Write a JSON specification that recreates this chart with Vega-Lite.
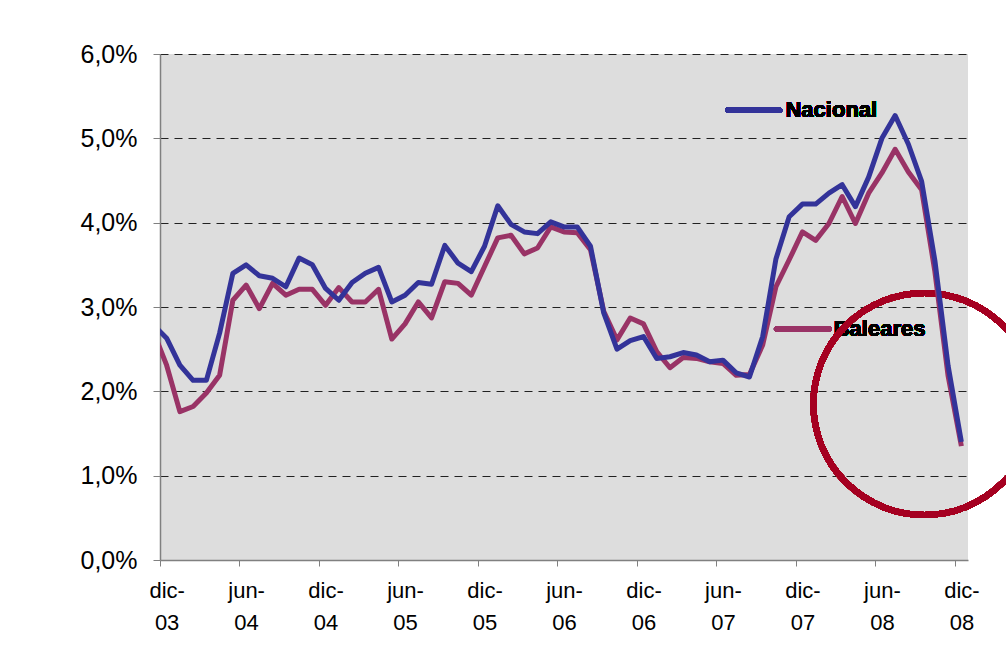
{
  "$schema": "https://vega.github.io/schema/vega-lite/v6.json",
  "width": 808,
  "height": 506,
  "autosize": {"type": "none"},
  "padding": {"left": 160, "top": 54, "right": 38, "bottom": 110},
  "background": "#ffffff",
  "config": {
    "font": "Liberation Sans",
    "view": {"fill": "#dddddd", "stroke": null}
  },
  "data": {
    "values": [
      {"i": -1, "mes": "nov-03", "Nacional": 2.79, "Baleares": 2.71},
      {"i": 0, "mes": "dic-03", "Nacional": 2.63, "Baleares": 2.31},
      {"i": 1, "mes": "ene-04", "Nacional": 2.31, "Baleares": 1.76},
      {"i": 2, "mes": "feb-04", "Nacional": 2.13, "Baleares": 1.82},
      {"i": 3, "mes": "mar-04", "Nacional": 2.13, "Baleares": 1.98},
      {"i": 4, "mes": "abr-04", "Nacional": 2.69, "Baleares": 2.19},
      {"i": 5, "mes": "may-04", "Nacional": 3.40, "Baleares": 3.08},
      {"i": 6, "mes": "jun-04", "Nacional": 3.50, "Baleares": 3.26},
      {"i": 7, "mes": "jul-04", "Nacional": 3.37, "Baleares": 2.98},
      {"i": 8, "mes": "ago-04", "Nacional": 3.34, "Baleares": 3.28},
      {"i": 9, "mes": "sep-04", "Nacional": 3.24, "Baleares": 3.14},
      {"i": 10, "mes": "oct-04", "Nacional": 3.58, "Baleares": 3.21},
      {"i": 11, "mes": "nov-04", "Nacional": 3.50, "Baleares": 3.21},
      {"i": 12, "mes": "dic-04", "Nacional": 3.22, "Baleares": 3.02},
      {"i": 13, "mes": "ene-05", "Nacional": 3.08, "Baleares": 3.23},
      {"i": 14, "mes": "feb-05", "Nacional": 3.29, "Baleares": 3.06},
      {"i": 15, "mes": "mar-05", "Nacional": 3.40, "Baleares": 3.06},
      {"i": 16, "mes": "abr-05", "Nacional": 3.47, "Baleares": 3.21},
      {"i": 17, "mes": "may-05", "Nacional": 3.06, "Baleares": 2.62},
      {"i": 18, "mes": "jun-05", "Nacional": 3.14, "Baleares": 2.80},
      {"i": 19, "mes": "jul-05", "Nacional": 3.29, "Baleares": 3.06},
      {"i": 20, "mes": "ago-05", "Nacional": 3.27, "Baleares": 2.87},
      {"i": 21, "mes": "sep-05", "Nacional": 3.73, "Baleares": 3.30},
      {"i": 22, "mes": "oct-05", "Nacional": 3.52, "Baleares": 3.28},
      {"i": 23, "mes": "nov-05", "Nacional": 3.42, "Baleares": 3.14},
      {"i": 24, "mes": "dic-05", "Nacional": 3.72, "Baleares": 3.48},
      {"i": 25, "mes": "ene-06", "Nacional": 4.20, "Baleares": 3.82},
      {"i": 26, "mes": "feb-06", "Nacional": 3.98, "Baleares": 3.85},
      {"i": 27, "mes": "mar-06", "Nacional": 3.89, "Baleares": 3.63},
      {"i": 28, "mes": "abr-06", "Nacional": 3.87, "Baleares": 3.70},
      {"i": 29, "mes": "may-06", "Nacional": 4.01, "Baleares": 3.95},
      {"i": 30, "mes": "jun-06", "Nacional": 3.95, "Baleares": 3.89},
      {"i": 31, "mes": "jul-06", "Nacional": 3.95, "Baleares": 3.88},
      {"i": 32, "mes": "ago-06", "Nacional": 3.72, "Baleares": 3.68},
      {"i": 33, "mes": "sep-06", "Nacional": 2.93, "Baleares": 2.95},
      {"i": 34, "mes": "oct-06", "Nacional": 2.50, "Baleares": 2.61},
      {"i": 35, "mes": "nov-06", "Nacional": 2.60, "Baleares": 2.87},
      {"i": 36, "mes": "dic-06", "Nacional": 2.65, "Baleares": 2.80},
      {"i": 37, "mes": "ene-07", "Nacional": 2.39, "Baleares": 2.47},
      {"i": 38, "mes": "feb-07", "Nacional": 2.41, "Baleares": 2.28},
      {"i": 39, "mes": "mar-07", "Nacional": 2.46, "Baleares": 2.40},
      {"i": 40, "mes": "abr-07", "Nacional": 2.43, "Baleares": 2.39},
      {"i": 41, "mes": "may-07", "Nacional": 2.35, "Baleares": 2.35},
      {"i": 42, "mes": "jun-07", "Nacional": 2.37, "Baleares": 2.33},
      {"i": 43, "mes": "jul-07", "Nacional": 2.22, "Baleares": 2.19},
      {"i": 44, "mes": "ago-07", "Nacional": 2.17, "Baleares": 2.20},
      {"i": 45, "mes": "sep-07", "Nacional": 2.65, "Baleares": 2.55},
      {"i": 46, "mes": "oct-07", "Nacional": 3.57, "Baleares": 3.24},
      {"i": 47, "mes": "nov-07", "Nacional": 4.07, "Baleares": 3.56},
      {"i": 48, "mes": "dic-07", "Nacional": 4.22, "Baleares": 3.89},
      {"i": 49, "mes": "ene-08", "Nacional": 4.22, "Baleares": 3.79},
      {"i": 50, "mes": "feb-08", "Nacional": 4.35, "Baleares": 3.99},
      {"i": 51, "mes": "mar-08", "Nacional": 4.45, "Baleares": 4.31},
      {"i": 52, "mes": "abr-08", "Nacional": 4.19, "Baleares": 3.99},
      {"i": 53, "mes": "may-08", "Nacional": 4.54, "Baleares": 4.35},
      {"i": 54, "mes": "jun-08", "Nacional": 5.00, "Baleares": 4.59},
      {"i": 55, "mes": "jul-08", "Nacional": 5.27, "Baleares": 4.87},
      {"i": 56, "mes": "ago-08", "Nacional": 4.93, "Baleares": 4.60},
      {"i": 57, "mes": "sep-08", "Nacional": 4.49, "Baleares": 4.39},
      {"i": 58, "mes": "oct-08", "Nacional": 3.55, "Baleares": 3.42},
      {"i": 59, "mes": "nov-08", "Nacional": 2.30, "Baleares": 2.18},
      {"i": 60, "mes": "dic-08", "Nacional": 1.40, "Baleares": 1.35}
    ]
  },
  "encoding": {
    "x": {
      "field": "i",
      "type": "quantitative",
      "title": null,
      "scale": {"domain": [-0.5, 60.5], "nice": false, "zero": false},
      "axis": {
        "values": [0, 6, 12, 18, 24, 30, 36, 42, 48, 54, 60],
        "tickOffset": -6.62,
        "labelOffset": 6.62,
        "labelExpr": "[datum.value % 12 == 0 ? 'dic-' : 'jun-', '0' + (floor((datum.value + 11) / 12) + 3)]",
        "labelFontSize": 22,
        "labelLineHeight": 32,
        "labelBaseline": "top",
        "labelPadding": 14,
        "labelColor": "#000000",
        "labelOverlap": false,
        "labelBound": false,
        "labelFlush": false,
        "tickSize": 6,
        "tickColor": "#808080",
        "domainColor": "#808080",
        "domainWidth": 1.5,
        "grid": false
      }
    }
  },
  "layer": [
    {
      "mark": {"type": "text", "text": "Nacional", "fontSize": 22, "fontWeight": "bold", "align": "left", "baseline": "middle", "color": "#000000"},
      "encoding": {
        "x": {"datum": 46.72, "type": "quantitative"},
        "y": {"datum": 5.336, "type": "quantitative"}
      }
    },
    {
      "mark": {"type": "text", "text": "Baleares", "fontSize": 22, "fontWeight": "bold", "align": "left", "baseline": "middle", "color": "#000000"},
      "encoding": {
        "x": {"datum": 50.36, "type": "quantitative"},
        "y": {"datum": 2.739, "type": "quantitative"}
      }
    },
    {
      "mark": {"type": "rule", "color": "#333399", "strokeWidth": 5, "strokeCap": "round"},
      "encoding": {
        "x": {"datum": 42.36, "type": "quantitative"},
        "x2": {"datum": 46.29},
        "y": {"datum": 5.336, "type": "quantitative"}
      }
    },
    {
      "mark": {"type": "rule", "color": "#993366", "strokeWidth": 5, "strokeCap": "round"},
      "encoding": {
        "x": {"datum": 46.04, "type": "quantitative"},
        "x2": {"datum": 50.0},
        "y": {"datum": 2.739, "type": "quantitative"}
      }
    },
    {
      "mark": {"type": "point", "shape": "circle", "filled": false, "stroke": "#a50021", "strokeWidth": 6, "opacity": 1, "size": 49284},
      "encoding": {
        "x": {"datum": 57.21, "type": "quantitative"},
        "y": {"datum": 1.85, "type": "quantitative"}
      }
    },
    {
      "mark": {"type": "line", "color": "#993366", "strokeWidth": 5, "strokeJoin": "round", "clip": true},
      "encoding": {
        "y": {
          "field": "Baleares",
          "type": "quantitative",
          "title": null,
          "scale": {"domain": [0, 6], "nice": false, "zero": true},
          "axis": {
            "values": [0, 1, 2, 3, 4, 5, 6],
            "labelExpr": "replace(format(datum.value, '.1f'), '.', ',') + '%'",
            "labelFontSize": 25,
            "labelColor": "#000000",
            "labelPadding": 16,
            "tickSize": 7,
            "tickColor": "#808080",
            "domainColor": "#808080",
            "domainWidth": 1.5,
            "grid": true,
            "gridColor": "#000000",
            "gridDash": [8, 6],
            "gridWidth": 1,
            "gridOpacity": {"condition": {"test": "datum.value === 0", "value": 0}, "value": 0.85}
          }
        }
      }
    },
    {
      "mark": {"type": "line", "color": "#333399", "strokeWidth": 5, "strokeJoin": "round", "clip": true},
      "encoding": {
        "y": {"field": "Nacional", "type": "quantitative", "title": null}
      }
    }
  ]
}
